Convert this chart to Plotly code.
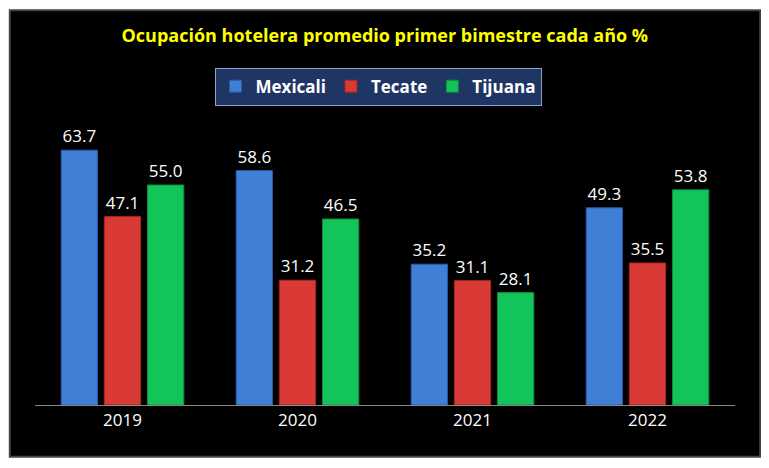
import plotly.graph_objects as go

years = ["2019", "2020", "2021", "2022"]
mexicali = [63.7, 58.6, 35.2, 49.3]
tecate = [47.1, 31.2, 31.1, 35.5]
tijuana = [55.0, 46.5, 28.1, 53.8]

series = [
    ("Mexicali", mexicali, "#3F7FD6", "#2A5BA8"),
    ("Tecate", tecate, "#D93A35", "#A52622"),
    ("Tijuana", tijuana, "#12C45A", "#0A8E3E"),
]

fig = go.Figure()
for name, vals, col, edge in series:
    fig.add_trace(go.Bar(
        x=years, y=vals, name=f"<b>{name}</b>",
        marker=dict(color=col, line=dict(color=edge, width=1)),
        text=[f"{v:.1f}" for v in vals], textposition="outside",
        textfont=dict(color="white", size=17, family="Open Sans"),
        cliponaxis=False,
    ))

fig.add_shape(type="rect", xref="paper", yref="paper",
              x0=-0.036, x1=1.036, y0=-0.185, y1=1.41,
              fillcolor="black", line=dict(color="#444", width=2), layer="below")

fig.update_layout(
    width=769, height=468,
    paper_bgcolor="white", plot_bgcolor="black",
    margin=dict(l=27, r=42, t=117, b=71),
    barmode="group", bargap=0.26, bargroupgap=0.16,
    title=dict(text="<b>Ocupación hotelera promedio primer bimestre cada año %</b>",
               x=0.49, y=0.94, xanchor="center", yanchor="middle",
               font=dict(color="#FFFF00", size=18, family="Open Sans")),
    legend=dict(orientation="h", x=0.49, xanchor="center", y=1.205, yanchor="top",
                bgcolor="#1F3564", bordercolor="#8EA0C8", borderwidth=1,
                font=dict(color="white", size=17, family="Open Sans"),
                itemwidth=30),
    xaxis=dict(showgrid=False, showline=True, linecolor="#888",
               tickfont=dict(color="white", size=17, family="Open Sans")),
    yaxis=dict(range=[0, 70], visible=False),
)
fig.write_html("out.html")
